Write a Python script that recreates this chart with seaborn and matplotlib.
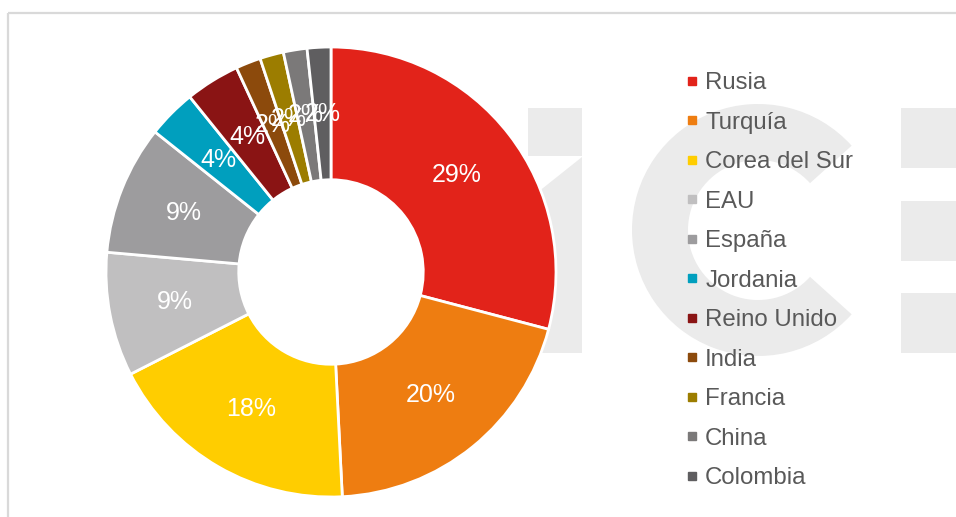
import matplotlib
matplotlib.use("Agg")
import matplotlib.pyplot as plt
import seaborn as sns
from matplotlib.patches import Rectangle, Wedge, Polygon
from matplotlib.lines import Line2D

# datos del grafico (cuota por pais, %)
paises = ["Rusia", "Turquía", "Corea del Sur", "EAU", "España", "Jordania",
          "Reino Unido", "India", "Francia", "China", "Colombia"]
cuotas = [29.1, 20.1, 18.3, 8.9, 9.3, 3.5, 3.9, 1.8, 1.7, 1.7, 1.7]
colores = ["#e2231a", "#ee7d11", "#ffcd00", "#c0bfc0", "#9d9c9e", "#009fbe",
           "#8a1414", "#8c4a0c", "#9c7d00", "#7b7979", "#5f5e60"]

sns.set_theme(style="white")
plt.rcParams['font.family'] = ['Liberation Sans', 'DejaVu Sans']

W, H = 956, 517
fig = plt.figure(figsize=(W / 100, H / 100), dpi=100, facecolor='white')

# capa de fondo en pixeles: marco + marca de agua "ic:"
bg = fig.add_axes([0, 0, 1, 1])
bg.set_xlim(0, W)
bg.set_ylim(H, 0)
bg.axis('off')
wm = '#ebebeb'
bg.add_patch(Rectangle((528, 108), 54, 48, color=wm, lw=0))
bg.add_patch(Polygon([(528, 200), (582, 157), (582, 353), (528, 353)], color=wm, lw=0))
bg.add_patch(Wedge((758, 230), 126, 42, 318, width=56, color=wm, lw=0))
for y0 in [108, 201, 293]:
    bg.add_patch(Rectangle((901, y0), 60, 60, color=wm, lw=0))
bg.plot([8.5, W], [12.5, 12.5], color='#d9d9d9', lw=1.6, solid_capstyle='butt')
bg.plot([8.5, 8.5], [12.5, H], color='#d9d9d9', lw=1.6, solid_capstyle='butt')

# donut
ax = fig.add_axes([106 / W, 1 - 497 / H, 450 / W, 450 / H])
wedges, texts, autotexts = ax.pie(
    cuotas,
    colors=colores,
    startangle=90,
    counterclock=False,
    autopct='%1.0f%%',
    pctdistance=0.705,
    radius=1.0,
    wedgeprops=dict(width=0.59, edgecolor='white', linewidth=2),
    textprops=dict(color='white', fontsize=18),
)
ax.set_xlim(-1, 1)
ax.set_ylim(-1, 1)
ax.set_aspect('equal')
ax.axis('off')

handles = [Line2D([0], [0], marker='s', linestyle='none', markersize=6,
                  markerfacecolor=c, markeredgecolor=c) for c in colores]
fig.legend(handles, paises, loc='upper left', bbox_to_anchor=(686 / W, 1 - 72 / H),
           frameon=False, fontsize=17.3, labelcolor='#595959', handlelength=0.5,
           handletextpad=0.3, labelspacing=0.73, borderpad=0, borderaxespad=0)

fig.savefig('out.png', dpi=100, facecolor='white')
